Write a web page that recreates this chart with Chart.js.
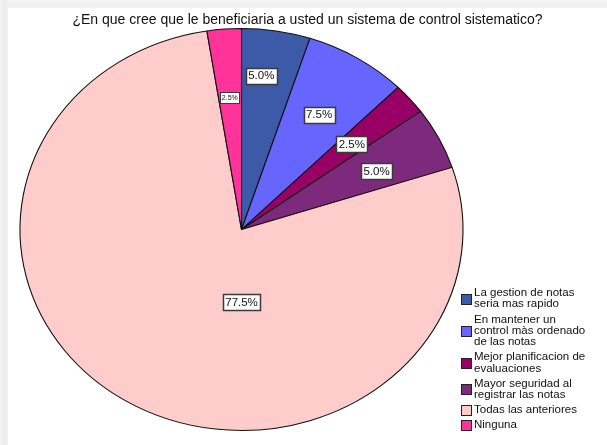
<!DOCTYPE html>
<html>
<head>
<meta charset="utf-8">
<script src="https://cdn.jsdelivr.net/npm/chart.js@4/dist/chart.umd.min.js"></script>
<style>
  html, body { margin: 0; padding: 0; background: #fff; overflow: hidden; }
  #wrap { position: relative; width: 607px; height: 445px; }
  canvas { display: block; }
</style>
</head>
<body>
<div id="wrap"><canvas id="c" width="607" height="445"></canvas></div>
<script>
// Survey question and answers
const title = '¿En que cree que le beneficiaria a usted un sistema de control sistematico?';
const categories = [
  ['La gestion de notas', 'seria mas rapido'],
  ['En mantener un', 'control màs ordenado', 'de las notas'],
  ['Mejor planificacion de', 'evaluaciones'],
  ['Mayor seguridad al', 'registrar las notas'],
  ['Todas las anteriores'],
  ['Ninguna']
];
// Share of respondents per answer (%)
const percentages = [5.0, 7.5, 2.5, 5.0, 77.5, 2.5];

// Styling
const sliceColors = ['#3d5aa9', '#6666ff', '#990066', '#7d2a7d', '#ffcccc', '#ff3399'];
const FONT = '"Liberation Sans", Arial, sans-serif';
const PIE_RADIUS = 201;      // vertical radius
const PIE_ASPECT = 1.102;    // horizontal stretch of the pie
// Where each value label sits: fraction along the slice's sweep, fraction of radius
const labelSweep = [0.37, 0.5, 0.5, 0.59, 0.387, 0.49];
const labelDist  = [0.77, 0.67, 0.655, 0.675, 0.363, 0.66];
const labelSize  = [11.5, 11.5, 11.5, 11.5, 11.5, 7];

const frame = {
  id: 'frame',
  beforeDraw(chart) {
    const ctx = chart.ctx, W = chart.width, H = chart.height;
    ctx.save();
    ctx.fillStyle = '#ffffff';
    ctx.fillRect(0, 0, W, H);
    let g = ctx.createLinearGradient(0, 0, 8, 0);
    g.addColorStop(0, '#f4f4f4'); g.addColorStop(0.4, '#ececec'); g.addColorStop(1, '#f1f1f1');
    ctx.fillStyle = g; ctx.fillRect(0, 0, 8, H);
    g = ctx.createLinearGradient(0, 0, 0, 8);
    g.addColorStop(0, '#f6f6f6'); g.addColorStop(0.5, '#efefef'); g.addColorStop(1, '#f3f3f3');
    ctx.fillStyle = g; ctx.fillRect(8, 0, W - 8, 8);
    ctx.restore();
  }
};

const stretch = {
  id: 'stretch',
  beforeDatasetsDraw(chart) {
    const arc = chart.getDatasetMeta(0).data[0];
    const ctx = chart.ctx;
    ctx.save();
    ctx.translate(arc.x, arc.y);
    ctx.scale(PIE_ASPECT, 1);
    ctx.translate(-arc.x, -arc.y);
  },
  afterDatasetsDraw(chart) {
    chart.ctx.restore();
  }
};

const valueLabels = {
  id: 'valueLabels',
  afterDatasetsDraw(chart) {
    const ctx = chart.ctx;
    const meta = chart.getDatasetMeta(0);
    const values = chart.data.datasets[0].data;
    ctx.save();
    meta.data.forEach((arc, i) => {
      const p = arc.getProps(['x', 'y', 'startAngle', 'endAngle', 'outerRadius'], true);
      const a = p.startAngle + labelSweep[i] * (p.endAngle - p.startAngle);
      const r = p.outerRadius * labelDist[i];
      const x = p.x + Math.cos(a) * r * PIE_ASPECT;
      const y = p.y + Math.sin(a) * r;
      const txt = values[i].toFixed(1) + '%';
      const fs = labelSize[i];
      ctx.font = fs + 'px ' + FONT;
      const w = ctx.measureText(txt).width;
      const bw = Math.round(w + fs * 0.4), bh = Math.round(fs + 4);
      const bx = Math.round(x - bw / 2) + 0.5, by = Math.round(y - bh / 2) + 0.5;
      ctx.fillStyle = '#ffffff';
      ctx.fillRect(bx, by, bw, bh);
      ctx.strokeStyle = '#3a3a3a';
      ctx.lineWidth = fs > 8 ? 1.5 : 1;
      ctx.strokeRect(bx, by, bw, bh);
      ctx.fillStyle = '#111111';
      ctx.textAlign = 'center';
      ctx.textBaseline = 'middle';
      ctx.fillText(txt, x, y + 0.5);
    });
    ctx.restore();
  }
};

const titleAndLegend = {
  id: 'titleAndLegend',
  afterDraw(chart) {
    const ctx = chart.ctx;
    ctx.save();
    ctx.fillStyle = '#111111';
    ctx.font = '14px ' + FONT;
    ctx.textAlign = 'center';
    ctx.textBaseline = 'middle';
    ctx.fillText(title, 307.5, 20);

    // legend
    const labels = chart.data.labels;
    const colors = chart.data.datasets[0].backgroundColor;
    const lh = 11.3, gap = 3.8, boxX = 461, box = 10, textX = 474;
    let y = 293;
    ctx.font = '11.5px ' + FONT;
    ctx.textAlign = 'left';
    labels.forEach((lines, i) => {
      const n = lines.length;
      const mid = y + (n - 1) * lh / 2;
      ctx.fillStyle = colors[i];
      ctx.fillRect(boxX + 0.5, Math.round(mid - box / 2) + 0.5, box, box);
      ctx.strokeStyle = '#222222';
      ctx.lineWidth = 1;
      ctx.strokeRect(boxX + 0.5, Math.round(mid - box / 2) + 0.5, box, box);
      ctx.fillStyle = '#111111';
      lines.forEach((t, k) => ctx.fillText(t, textX, y + k * lh));
      y += n * lh + gap;
    });
    ctx.restore();
  }
};

new Chart(document.getElementById('c'), {
  type: 'pie',
  data: {
    labels: categories,
    datasets: [{
      data: percentages,
      backgroundColor: sliceColors,
      borderColor: '#111111',
      borderWidth: 1,
      radius: PIE_RADIUS,
      clip: false
    }]
  },
  options: {
    responsive: false,
    animation: false,
    layout: { padding: { left: 0, right: 124, top: 14, bottom: 0 } },
    plugins: {
      legend: { display: false },
      title: { display: false },
      tooltip: { enabled: false }
    }
  },
  plugins: [frame, stretch, valueLabels, titleAndLegend]
});
</script>
</body>
</html>
